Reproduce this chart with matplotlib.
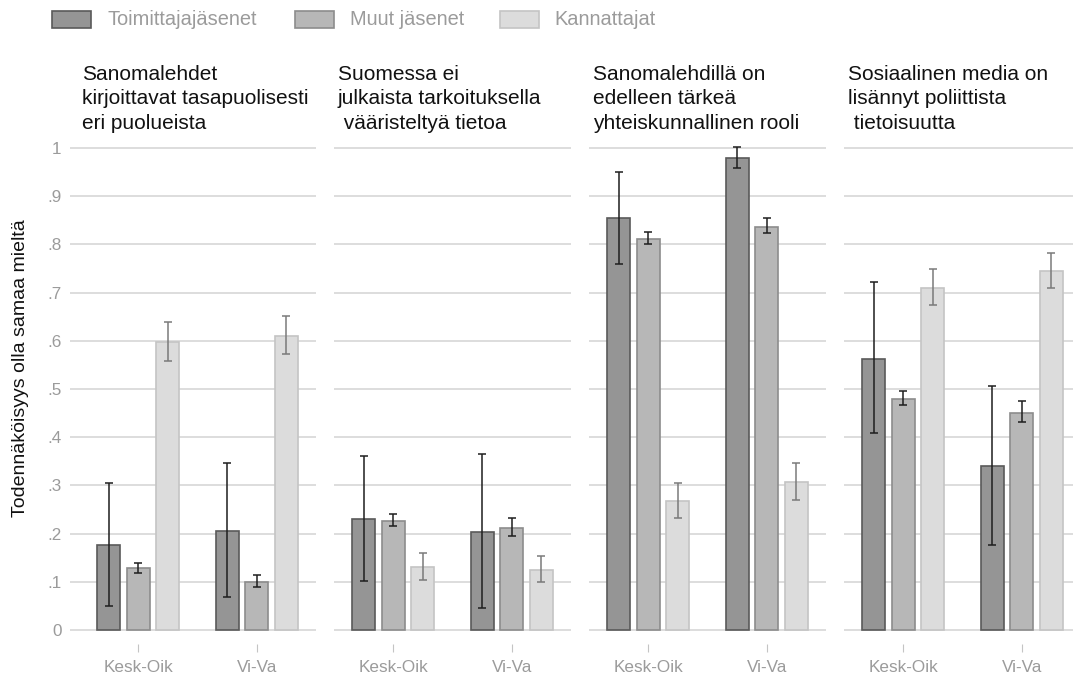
import matplotlib
matplotlib.use("Agg")
import matplotlib.pyplot as plt
from matplotlib.patches import Rectangle
import numpy as np

plt.rcParams['font.family'] = ['Liberation Sans', 'DejaVu Sans']

# ---------------- data ----------------
panel_titles = [
    "Sanomalehdet\nkirjoittavat tasapuolisesti\neri puolueista",
    "Suomessa ei\njulkaista tarkoituksella\n vääristeltyä tietoa",
    "Sanomalehdillä on\nedelleen tärkeä\nyhteiskunnallinen rooli",
    "Sosiaalinen media on\nlisännyt poliittista\n tietoisuutta",
]
groups = ["Kesk-Oik", "Vi-Va"]
series = ["Toimittajajäsenet", "Muut jäsenet", "Kannattajat"]

# values[panel][group] for each series
toim = [[0.176, 0.206], [0.230, 0.203], [0.854, 0.979], [0.563, 0.340]]
toim_lo = [[0.050, 0.068], [0.102, 0.045], [0.760, 0.959], [0.408, 0.177]]
toim_hi = [[0.305, 0.346], [0.361, 0.365], [0.950, 1.002], [0.721, 0.506]]

muut = [[0.128, 0.100], [0.227, 0.212], [0.811, 0.836], [0.480, 0.451]]
muut_lo = [[0.119, 0.089], [0.215, 0.195], [0.801, 0.823], [0.466, 0.431]]
muut_hi = [[0.140, 0.115], [0.240, 0.233], [0.825, 0.854], [0.496, 0.475]]

kann = [[0.597, 0.610], [0.131, 0.124], [0.268, 0.307], [0.710, 0.744]]
kann_lo = [[0.558, 0.572], [0.104, 0.099], [0.232, 0.270], [0.674, 0.710]]
kann_hi = [[0.638, 0.652], [0.159, 0.153], [0.306, 0.346], [0.749, 0.782]]

yticks = [0, 0.1, 0.2, 0.3, 0.4, 0.5, 0.6, 0.7, 0.8, 0.9, 1.0]
ytick_labels = ["0", ".1", ".2", ".3", ".4", ".5", ".6", ".7", ".8", ".9", "1"]
ylabel = "Todennäköisyys olla samaa mieltä"

# ---------------- styles ----------------
fills = ["#959595", "#b7b7b7", "#dcdcdc"]
edges = ["#5a5a5a", "#8c8c8c", "#c4c4c4"]
ecolors = ["#1e1e1e", "#1e1e1e", "#7a7a7a"]
offsets = [-0.25, 0.0, 0.25]
bar_w = 0.195
grey_txt = "#9b9b9b"
grid_c = "#dadada"

W, H = 1073, 677
fig = plt.figure(figsize=(W / 100, H / 100), dpi=100)

# pixel geometry
y0_px, y1_px = 630.0, 148.0
unit_y = y0_px - y1_px
ylo, yhi = -0.03, 1.03
bot_px = y0_px - ylo * unit_y
top_px = y1_px - (yhi - 1) * unit_y
unit_x = 118.5
tick1_px = [138.3, 393.3, 648.3, 903.3]
left_px = [70, 334, 589, 844]
right_px = [316, 571, 826, 1073]
title_x_px = [82, 338, 593, 848]

all_series = [(toim, toim_lo, toim_hi), (muut, muut_lo, muut_hi), (kann, kann_lo, kann_hi)]
xpos = np.array([1, 2])

for p in range(4):
    l, r = left_px[p], right_px[p]
    ax = fig.add_axes([l / W, 1 - bot_px / H, (r - l) / W, (bot_px - top_px) / H])
    xl = 1 - (tick1_px[p] - l) / unit_x
    xr = 1 + (r - tick1_px[p]) / unit_x
    ax.set_xlim(xl, xr)
    ax.set_ylim(ylo, yhi)
    for yt in yticks:
        ax.axhline(yt, color=grid_c, lw=1.3, zorder=0)
    for s, (vals, lo, hi) in enumerate(all_series):
        v = np.array(vals[p])
        lo_ = np.array(lo[p])
        hi_ = np.array(hi[p])
        xs = xpos + offsets[s]
        ax.bar(xs, v, width=bar_w, color=fills[s], edgecolor=edges[s], linewidth=1.2,
               zorder=2, label=series[s])
        ax.errorbar(xs, v, yerr=[v - lo_, hi_ - v], fmt='none', ecolor=ecolors[s],
                    elinewidth=1.1, capsize=2.9, capthick=1.1, zorder=3, clip_on=False)
    for sp in ax.spines.values():
        sp.set_visible(False)
    ax.set_xticks(xpos)
    ax.set_xticklabels(groups, color=grey_txt, fontsize=12.3)
    ax.tick_params(axis='x', length=6, width=0.8, color="#c4c4c4", pad=5)
    ax.set_yticks(yticks)
    if p == 0:
        ax.set_yticklabels(ytick_labels, color=grey_txt, fontsize=12.3)
        ax.tick_params(axis='y', length=0, pad=6)
        ax.set_ylabel(ylabel, fontsize=14, color="#111111")
        ax.yaxis.set_label_coords((29 - l) / (r - l),
                                  (bot_px - 368) / (bot_px - top_px))
    else:
        ax.tick_params(axis='y', length=0, labelleft=False)
    ax.set_facecolor("none")
    fig.text(title_x_px[p] / W, 1 - 65 / H, panel_titles[p], ha='left', va='top',
             fontsize=15, color="#111111", linespacing=1.36)

# legend
leg_patch_x = [52, 295, 500]
leg_text_x = [108, 350, 554]
for s in range(3):
    fig.patches.append(Rectangle((leg_patch_x[s] / W, 1 - 28 / H), 39 / W, 17 / H,
                                 transform=fig.transFigure, facecolor=fills[s],
                                 edgecolor=edges[s], linewidth=1.2))
    fig.text(leg_text_x[s] / W, 1 - 19.5 / H, series[s], ha='left', va='center',
             fontsize=14.4, color=grey_txt)

fig.savefig("out.png", dpi=100)
